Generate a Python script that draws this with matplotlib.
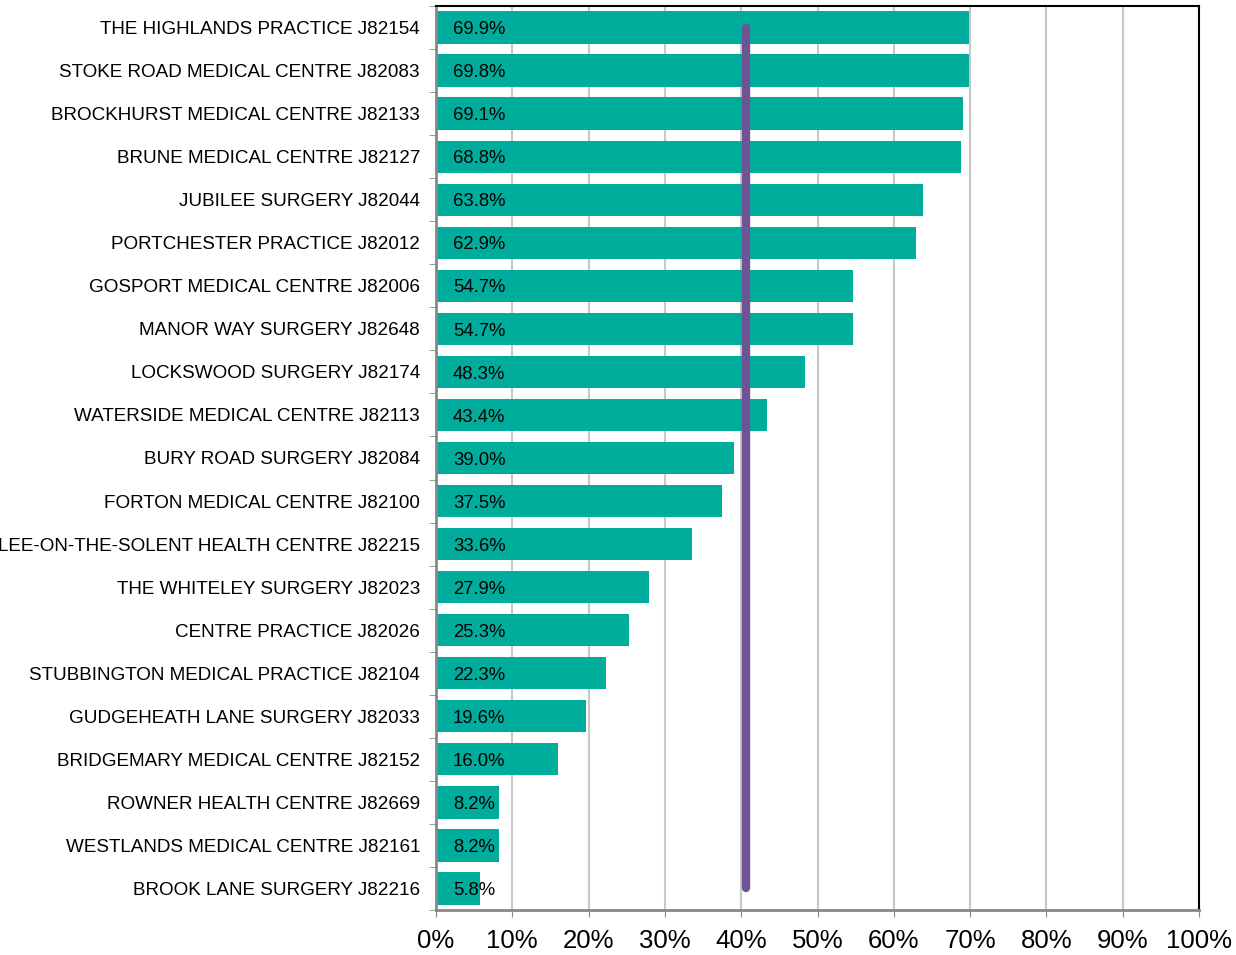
import matplotlib.pyplot as plt
from matplotlib.ticker import FuncFormatter

plt.rcParams['font.family'] = ['Liberation Sans', 'DejaVu Sans']

practices = [
    "THE HIGHLANDS PRACTICE J82154",
    "STOKE ROAD MEDICAL CENTRE J82083",
    "BROCKHURST MEDICAL CENTRE J82133",
    "BRUNE MEDICAL CENTRE J82127",
    "JUBILEE SURGERY J82044",
    "PORTCHESTER PRACTICE J82012",
    "GOSPORT MEDICAL CENTRE J82006",
    "MANOR WAY SURGERY J82648",
    "LOCKSWOOD SURGERY J82174",
    "WATERSIDE MEDICAL CENTRE J82113",
    "BURY ROAD SURGERY J82084",
    "FORTON MEDICAL CENTRE J82100",
    "LEE-ON-THE-SOLENT HEALTH CENTRE J82215",
    "THE WHITELEY SURGERY J82023",
    "CENTRE PRACTICE J82026",
    "STUBBINGTON MEDICAL PRACTICE J82104",
    "GUDGEHEATH LANE SURGERY J82033",
    "BRIDGEMARY MEDICAL CENTRE J82152",
    "ROWNER HEALTH CENTRE J82669",
    "WESTLANDS MEDICAL CENTRE J82161",
    "BROOK LANE SURGERY J82216",
]
values = [69.9, 69.8, 69.1, 68.8, 63.8, 62.9, 54.7, 54.7, 48.3, 43.4, 39.0,
          37.5, 33.6, 27.9, 25.3, 22.3, 19.6, 16.0, 8.2, 8.2, 5.8]
average = 40.6

fig = plt.figure(figsize=(12.36, 9.55), dpi=100)
ax = fig.add_axes([436/1236, 1-910/955, (1199-436)/1236, (910-6)/955])

pos = list(range(len(values)))
ax.barh(pos, values, height=0.75, color="#00AC9B", zorder=2)
for p, v in zip(pos, values):
    ax.text(2.2, p + 0.05, f"{v:.1f}%", va="center", ha="left", fontsize=13.3,
            color="black", zorder=4)

ax.plot([average, average], [pos[0], pos[-1]], color="#6E5494", lw=6,
        solid_capstyle="round", zorder=3)

ax.set_xlim(0, 100)
ax.set_ylim(len(values) - 0.5, -0.5)
ax.set_xticks(range(0, 101, 10))
ax.xaxis.set_major_formatter(FuncFormatter(lambda x, _: f"{x:.0f}%"))
ax.tick_params(axis="x", labelsize=18.5, length=5, color="#888888", pad=9)
ax.grid(axis="x", color="#C8C8C8", lw=1.5, zorder=0)

ax.set_yticks(pos)
ax.set_yticklabels(practices, fontsize=13.6)
ax.set_yticks([p + 0.5 for p in range(-1, len(values))], minor=True)
ax.tick_params(axis="y", which="major", length=0, pad=11.5)
ax.tick_params(axis="y", which="minor", length=5, color="#888888")

ax.spines["left"].set_color("#888888")
ax.spines["bottom"].set_color("#888888")
ax.spines["left"].set_linewidth(2)
ax.spines["bottom"].set_linewidth(2)
ax.spines["top"].set_linewidth(1.5)
ax.spines["right"].set_linewidth(1.5)

fig.savefig("out.png", dpi=100)
